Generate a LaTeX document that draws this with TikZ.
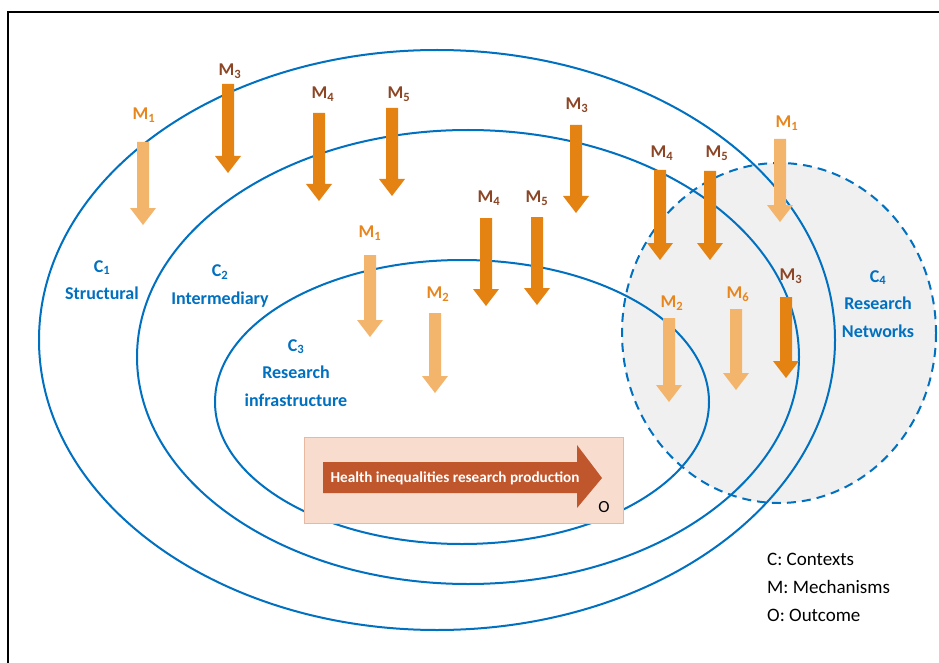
\documentclass[tikz,border=0pt]{standalone}
\usepackage{fontspec}
\setmainfont{Carlito}
\definecolor{cblue}{RGB}{0,112,192}
\definecolor{dorange}{RGB}{228,130,18}
\definecolor{lorange}{RGB}{243,180,108}
\definecolor{mbrown}{RGB}{140,70,38}
\definecolor{morange}{RGB}{232,134,30}
\definecolor{netgray}{RGB}{240,240,240}
\definecolor{boxfill}{RGB}{248,220,206}
\definecolor{boxline}{RGB}{232,184,160}
\definecolor{outarrow}{RGB}{192,86,44}
\newcommand\mecharrow[4]{%
  \fill[#4] (#1-6,#2) -- (#1+6,#2) -- (#1+6,#3-17) -- (#1+13,#3-17) -- (#1,#3)
    -- (#1-13,#3-17) -- (#1-6,#3-17) -- cycle;}
\begin{document}
\begin{tikzpicture}[x=1pt,y=-1pt,
  ell/.style={draw=cblue,line width=2pt},
  clab/.style={text=cblue,font=\fontsize{18}{27.5}\selectfont\bfseries,align=center,inner sep=0pt},
  mlab/.style={font=\fontsize{18}{20}\selectfont\bfseries,inner sep=0pt},
  legend/.style={font=\fontsize{19}{28}\selectfont,align=left,inner sep=0pt,anchor=north west}]
\useasboundingbox (0,0) rectangle (939,663);
\fill[white] (0,0) rectangle (939,663);
% frame
\draw[line width=2.2pt] (939,12) -- (8,12) -- (8,663);
% C4 research networks (background)
\fill[netgray] (779,333) ellipse [x radius=157, y radius=170];
% contexts
\draw[ell] (437,340) ellipse [x radius=398, y radius=290];
\draw[ell] (468,357) ellipse [x radius=331, y radius=227];
\draw[ell] (462,402) ellipse [x radius=247, y radius=142];
\draw[ell,dashed,dash pattern=on 9pt off 6pt] (779,333) ellipse [x radius=157, y radius=170];
% mechanism arrows
\mecharrow{143}{142}{225}{lorange}
\mecharrow{228}{84}{173}{dorange}
\mecharrow{319}{113}{201}{dorange}
\mecharrow{392}{108}{196}{dorange}
\mecharrow{576}{125}{213}{dorange}
\mecharrow{660}{170}{260}{dorange}
\mecharrow{710}{171}{260}{dorange}
\mecharrow{780}{139}{222}{lorange}
\mecharrow{486}{218}{306}{dorange}
\mecharrow{537}{217}{305}{dorange}
\mecharrow{370}{255}{337}{lorange}
\mecharrow{435}{313}{393}{lorange}
\mecharrow{669}{318}{402}{lorange}
\mecharrow{736}{309}{390}{lorange}
\mecharrow{786}{297}{378}{dorange}
% mechanism labels
\node[mlab,text=morange] (l1) at (144,115) {M\textsubscript{1}};
\node[mlab,text=mbrown] (l2) at (230,71) {M\textsubscript{3}};
\node[mlab,text=mbrown] (l3) at (323,94) {M\textsubscript{4}};
\node[mlab,text=mbrown] (l4) at (399,94) {M\textsubscript{5}};
\node[mlab,text=mbrown] (l5) at (577,105) {M\textsubscript{3}};
\node[mlab,text=mbrown] (l6) at (662,153) {M\textsubscript{4}};
\node[mlab,text=mbrown] (l7) at (717,153) {M\textsubscript{5}};
\node[mlab,text=morange] (l8) at (787,123) {M\textsubscript{1}};
\node[mlab,text=mbrown] (l9) at (489,198) {M\textsubscript{4}};
\node[mlab,text=mbrown] (l10) at (537,198) {M\textsubscript{5}};
\node[mlab,text=morange] (l11) at (370,233) {M\textsubscript{1}};
\node[mlab,text=morange] (l12) at (438,294) {M\textsubscript{2}};
\node[mlab,text=morange] (l13) at (672,303) {M\textsubscript{2}};
\node[mlab,text=morange] (l14) at (738,294) {M\textsubscript{6}};
\node[mlab,text=mbrown] (l15) at (791,276) {M\textsubscript{3}};
% context labels
\node[clab] (c1) at (102,280) {C\textsubscript{1}\\Structural};
\node[clab] (c2) at (220,286) {C\textsubscript{2}\\Intermediary};
\node[clab] (c3) at (296,373) {C\textsubscript{3}\\Research\\infrastructure};
\node[clab] (c4) at (878,304) {C\textsubscript{4}\\Research\\Networks};
% outcome box
\draw[boxline,fill=boxfill,line width=1pt] (304,437) rectangle (623,523);
\fill[outarrow] (323,462) -- (577,462) -- (577,445) -- (602,478) -- (577,508) -- (577,493) -- (323,493) -- cycle;
\node[text=white,font=\fontsize{15.2}{17}\selectfont\bfseries,inner sep=0pt] (hirp) at (455,478) {Health inequalities research production};
\node[font=\fontsize{17}{18}\selectfont,inner sep=0pt] (o) at (604,507) {O};
% legend
\node[legend] (leg) at (767,553) {C: Contexts\\M: Mechanisms\\O: Outcome};
\end{tikzpicture}
\end{document}
